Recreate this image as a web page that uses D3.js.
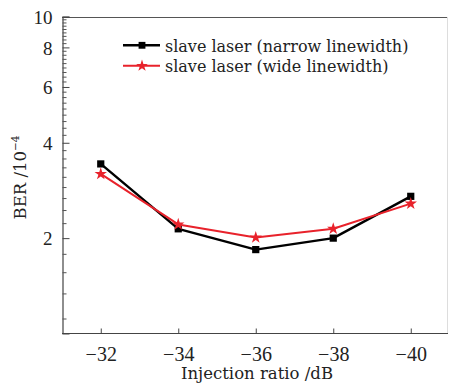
<!DOCTYPE html>
<html>
<head>
<meta charset="utf-8">
<script src="https://cdn.jsdelivr.net/npm/d3@7"></script>
<style>
  html, body { margin: 0; padding: 0; background: #fff; }
  svg { display: block; }
</style>
</head>
<body>
<svg id="chart" width="449" height="383"></svg>
<script>
// Injection ratio (dB) on the x axis
const injectionRatio = [-32, -34, -36, -38, -40];
// BER values in units of 1e-4
const berNarrow = [3.43, 2.14, 1.84, 2.00, 2.71];
const berWide = [3.19, 2.21, 2.01, 2.14, 2.57];
const seriesNames = ["slave laser (narrow linewidth)", "slave laser (wide linewidth)"];
const xTickValues = [-32, -34, -36, -38, -40];
const yTickValues = [2, 4, 6, 8, 10];

const svg = d3.select("#chart");
const plotLeft = 62, plotTop = 17, plotBottom = 333.5, plotRight = 449.5;

const x = d3.scaleLinear().domain([-31, -41]).range([plotLeft, plotRight]);
const y = d3.scaleLog().domain([1, 10]).range([plotBottom, 16.7]);

const numFont = "'Liberation Serif', 'Times New Roman', serif";
const textFont = "'DejaVu Serif', serif";

// frame: top edge and faint right edge
svg.append("line").attr("x1", plotLeft).attr("x2", 448).attr("y1", plotTop + 0.5).attr("y2", plotTop + 0.5)
  .attr("stroke", "#555").attr("stroke-width", 1);
svg.append("line").attr("x1", 447.5).attr("x2", 447.5).attr("y1", plotTop).attr("y2", plotBottom)
  .attr("stroke", "#ddd").attr("stroke-width", 1);

// minor ticks on the log axis: eight steps between labelled values, continuing below 2
const yMinor = [];
for (let k = 1; k <= 4; k++) yMinor.push(2 - k * 2 / 9);
for (let i = 0; i < yTickValues.length - 1; i++) {
  for (let k = 1; k <= 8; k++) yMinor.push(yTickValues[i] + k * (yTickValues[i + 1] - yTickValues[i]) / 9);
}

// y axis
const yAxis = d3.axisLeft(y).tickValues(yTickValues).tickSize(-7).tickPadding(10)
  .tickFormat(d3.format("d"));
const gy = svg.append("g").attr("transform", `translate(${plotLeft + 0.5},0)`).call(yAxis);
gy.select(".domain").attr("stroke", "#444").attr("stroke-width", 1.2);
gy.selectAll(".tick line").attr("stroke", "#444");
gy.selectAll(".tick text").attr("font-family", numFont).attr("font-size", 19).attr("fill", "#222")
  .attr("x", -10).attr("dy", "0.35em");
gy.selectAll(".minor").data(yMinor).enter().append("line").attr("class", "minor")
  .attr("x1", 0).attr("x2", 4).attr("y1", d => y(d)).attr("y2", d => y(d))
  .attr("stroke", "#555").attr("stroke-width", 1);

// x axis
const xAxis = d3.axisBottom(x).tickValues(xTickValues).tickSize(-5).tickPadding(14)
  .tickFormat(d => "\u2212" + Math.abs(d));
const gx = svg.append("g").attr("transform", `translate(0,${plotBottom})`).call(xAxis);
gx.select(".domain").attr("stroke", "#444").attr("stroke-width", 1.2).attr("d", `M${plotLeft},0H448`);
gx.selectAll(".tick line").attr("stroke", "#444");
gx.selectAll(".tick text").attr("font-family", numFont).attr("font-size", 20).attr("fill", "#222")
  .attr("y", 0).attr("dy", 27.5);

// axis titles
svg.append("text").attr("x", 257).attr("y", 379.3).attr("text-anchor", "middle")
  .attr("font-family", textFont).attr("font-size", 16.5).attr("fill", "#222")
  .text("Injection ratio /dB");
const yt = svg.append("text").attr("transform", "translate(26,177.5) rotate(-90)")
  .attr("text-anchor", "middle").attr("font-family", textFont).attr("font-size", 16.5).attr("fill", "#222");
yt.append("tspan").text("BER /10");
yt.append("tspan").attr("dy", -7).attr("font-size", 10.5).text("\u22124");

// series
const series = [
  { name: seriesNames[0], values: berNarrow, color: "#000", width: 2.4, symbol: d3.symbolSquare, size: 52 },
  { name: seriesNames[1], values: berWide, color: "#e8222b", width: 2, symbol: d3.symbolStar, size: 48 }
];
const line = d3.line().x((d, i) => x(injectionRatio[i])).y(d => y(d));

series.forEach(s => {
  svg.append("path").datum(s.values).attr("d", line).attr("fill", "none")
    .attr("stroke", s.color).attr("stroke-width", s.width).attr("stroke-linejoin", "round");
  svg.selectAll(null).data(s.values).enter().append("path")
    .attr("transform", (d, i) => `translate(${x(injectionRatio[i])},${y(d)})`)
    .attr("d", d3.symbol().type(s.symbol).size(s.size)).attr("fill", s.color);
});

// legend
series.forEach((s, i) => {
  const ly = 45.3 + i * 20.5;
  svg.append("line").attr("x1", 123).attr("x2", 160).attr("y1", ly).attr("y2", ly)
    .attr("stroke", s.color).attr("stroke-width", s.width);
  svg.append("path").attr("transform", `translate(142,${ly})`)
    .attr("d", d3.symbol().type(s.symbol).size(s.size * 0.9)).attr("fill", s.color);
  svg.append("text").attr("x", 165).attr("y", ly + 6.4)
    .attr("font-family", textFont).attr("font-size", 16).attr("fill", "#222").text(s.name);
});
</script>
</body>
</html>
